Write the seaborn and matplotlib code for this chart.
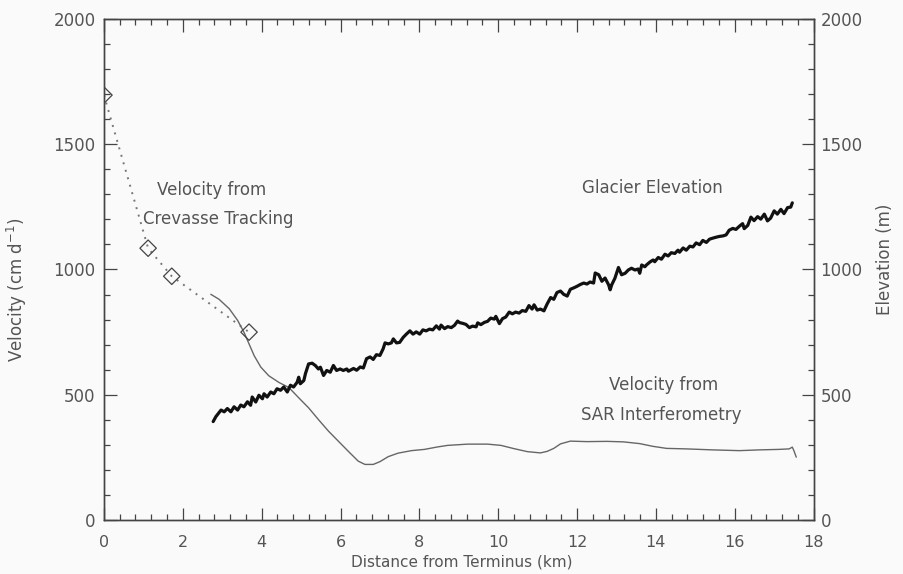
import matplotlib
matplotlib.use("Agg")
import matplotlib.pyplot as plt
import seaborn as sns
from matplotlib.ticker import MultipleLocator

# ---- data ----
crev_km = [0.0, 1.12, 1.72, 3.68]
crev_vel = [1696, 1085, 973, 750]

sar_km = [2.71, 2.92, 3.18, 3.39, 3.55, 3.68, 3.81, 3.98, 4.18, 4.44, 4.69, 4.94,
          5.19, 5.44, 5.70, 5.95, 6.20, 6.45, 6.62, 6.83, 7.00, 7.21, 7.46, 7.80,
          8.13, 8.47, 8.72, 9.23, 9.73, 10.07, 10.40, 10.74, 11.07, 11.24, 11.41,
          11.58, 11.83, 12.25, 12.76, 13.18, 13.59, 13.93, 14.27, 14.77, 15.44,
          16.12, 16.62, 17.12, 17.38, 17.46, 17.50, 17.56]
sar_vel = [901, 881, 843, 797, 750, 703, 656, 610, 576, 549, 529, 488,
           448, 401, 354, 314, 274, 235, 222, 222, 233, 253, 267, 277,
           282, 292, 298, 303, 303, 298, 285, 273, 268, 274, 286,
           304, 315, 313, 314, 312, 305, 294, 286, 284, 280,
           277, 280, 282, 284, 291, 277, 251]

elev_km = [2.77, 2.84, 2.97, 3.05, 3.13, 3.22, 3.30, 3.39, 3.47, 3.55, 3.64, 3.72,
           3.76, 3.85, 3.93, 4.02, 4.06, 4.14, 4.23, 4.31, 4.39, 4.48, 4.56, 4.65,
           4.73, 4.81, 4.90, 4.94, 4.98, 5.07, 5.11, 5.19, 5.28, 5.36, 5.44, 5.49,
           5.57, 5.65, 5.74, 5.82, 5.90, 5.99, 6.07, 6.16,
           6.20, 6.33, 6.41, 6.50, 6.58, 6.66, 6.75, 6.83, 6.91, 7.00, 7.08, 7.13,
           7.21, 7.29, 7.34, 7.42, 7.50, 7.59, 7.67, 7.76, 7.84, 7.92, 8.01, 8.09,
           8.17, 8.26, 8.34, 8.43, 8.51, 8.55, 8.64, 8.72, 8.81, 8.89, 8.97, 9.02,
           9.10, 9.18, 9.27, 9.35, 9.44, 9.48, 9.56, 9.65, 9.73, 9.81, 9.90, 9.94,
           9.98, 10.03, 10.11, 10.19, 10.28, 10.36, 10.44, 10.53, 10.61, 10.70,
           10.78, 10.86, 10.91, 10.99, 11.07, 11.16, 11.24, 11.33, 11.41, 11.49,
           11.58, 11.66, 11.75, 11.83, 11.92, 12.00, 12.08, 12.17, 12.25, 12.33,
           12.42, 12.46, 12.55, 12.63, 12.71, 12.80, 12.84, 12.88, 12.96, 13.05,
           13.13, 13.22, 13.30, 13.38, 13.47, 13.55, 13.59, 13.64, 13.72,
           13.76, 13.85, 13.93, 13.97, 14.06, 14.14, 14.23, 14.31, 14.39, 14.48,
           14.56, 14.60, 14.69, 14.77, 14.86, 14.94, 15.02, 15.11, 15.19, 15.28,
           15.36, 15.44, 15.53, 15.61, 15.70, 15.78, 15.86, 15.95, 16.03, 16.12,
           16.20, 16.24, 16.33, 16.41, 16.49, 16.58, 16.66, 16.75, 16.83, 16.91,
           17.00, 17.08, 17.17, 17.25, 17.34, 17.42, 17.46]
elev_m = [393, 413, 439, 432, 445, 432, 452, 439, 459, 452, 472, 458,
          491, 471, 498, 484, 504, 491, 511, 504, 524, 518, 531, 511,
          538, 531, 550, 570, 544, 557, 584, 623, 626, 617, 603, 610,
          577, 597, 590, 617, 597, 603, 597, 603,
          594, 605, 598, 611, 607, 644, 651, 641, 660, 657, 683, 707,
          703, 707, 723, 707, 709, 729, 742, 755, 742, 751, 742, 759,
          755, 762, 759, 775, 762, 778, 764, 772, 768, 777, 794, 788,
          785, 781, 768, 774, 771, 787, 780, 789, 793, 806, 802, 813,
          800, 784, 804, 810, 830, 823, 830, 826, 836, 833,
          856, 842, 859, 838, 842, 835, 862, 888, 881, 908,
          914, 901, 894, 921, 927, 933, 940, 946, 942, 950,
          946, 986, 979, 953, 966, 939, 919, 939, 965, 1008,
          979, 985, 998, 1005, 998, 1002, 985, 1018, 1011,
          1018, 1030, 1038, 1031, 1048, 1041, 1061, 1054, 1067, 1064,
          1077, 1069, 1086, 1077, 1093, 1090, 1106, 1099, 1116, 1108,
          1121, 1125, 1129, 1132, 1134, 1138, 1157, 1164, 1160, 1173,
          1183, 1163, 1176, 1209, 1195, 1211, 1201, 1221, 1194, 1205,
          1234, 1221, 1240, 1223, 1247, 1249, 1266]

x_ticks = [0, 2, 4, 6, 8, 10, 12, 14, 16, 18]
y_ticks = [0, 500, 1000, 1500, 2000]

# ---- style ----
sns.set_style("ticks")
plt.rcParams['font.family'] = ['DejaVu Sans']
plt.rcParams['mathtext.default'] = 'regular'

BG = '#f9faf9'
TXT = '#555555'
AX = '#444444'

fig = plt.figure(figsize=(9.04, 5.74), dpi=100, facecolor=BG)
ax = fig.add_axes([0.115, 0.094, 0.785, 0.873])
ax.set_facecolor(BG)
ax2 = ax.twinx()

# crevasse tracking (dotted + diamonds)
sns.lineplot(x=crev_km, y=crev_vel, ax=ax, color='#777777', lw=1.4,
             linestyle=(0, (1, 3)), sort=False, estimator=None)
sns.scatterplot(x=crev_km, y=crev_vel, ax=ax, marker='D', s=70,
                facecolor='none', edgecolor='#444444', linewidth=0.9, zorder=5)
# SAR velocity
sns.lineplot(x=sar_km, y=sar_vel, ax=ax, color='#666666', lw=1.0,
             sort=False, estimator=None)
# elevation
sns.lineplot(x=elev_km, y=elev_m, ax=ax2, color='#111111', lw=2.3,
             sort=False, estimator=None)

ax.set_xlim(0, 18)
ax.set_ylim(0, 2000)
ax2.set_ylim(0, 2000)
ax.set_xticks(x_ticks)
ax.set_yticks(y_ticks)
ax2.set_yticks(y_ticks)
ax.xaxis.set_minor_locator(MultipleLocator(0.4))
ax.yaxis.set_minor_locator(MultipleLocator(100))
ax2.yaxis.set_minor_locator(MultipleLocator(100))

ax.tick_params(axis='x', which='both', direction='in', top=True, bottom=True,
               color=AX, labelcolor=TXT, labelsize=11.5, pad=11)
ax.tick_params(axis='y', which='both', direction='in', left=True, right=False,
               color=AX, labelcolor=TXT, labelsize=12, pad=6)
ax2.tick_params(axis='y', which='both', direction='in', right=True, left=False,
                color=AX, labelcolor=TXT, labelsize=12, pad=5)
for a in (ax, ax2):
    a.tick_params(which='major', length=9, width=0.9)
    a.tick_params(which='minor', length=4, width=0.9)
    for s in a.spines.values():
        s.set_color(AX)
        s.set_linewidth(1.0)

ax.set_xlabel('Distance from Terminus (km)', fontsize=11, color=TXT)
ax.xaxis.set_label_coords(0.504, -0.068)
ax.set_ylabel('Velocity (cm d$^{-1}$)', fontsize=12, color=TXT)
ax.yaxis.set_label_coords(-0.105, 0.46)
ax2.set_ylabel('Elevation (m)', fontsize=12, color=TXT)
ax2.yaxis.set_label_coords(1.088, 0.52)

# annotations
ax.text(1.34, 1318, 'Velocity from', fontsize=12, color=TXT, va='center')
ax.text(0.98, 1200, 'Crevasse Tracking', fontsize=12, color=TXT, va='center')
ax.text(13.9, 1327, 'Glacier Elevation', fontsize=12, color=TXT,
        va='center', ha='center')
ax.text(14.2, 538, 'Velocity from', fontsize=12, color=TXT,
        va='center', ha='center')
ax.text(14.14, 418, 'SAR Interferometry', fontsize=12, color=TXT,
        va='center', ha='center')

fig.savefig('out.png', dpi=100, facecolor=BG)
